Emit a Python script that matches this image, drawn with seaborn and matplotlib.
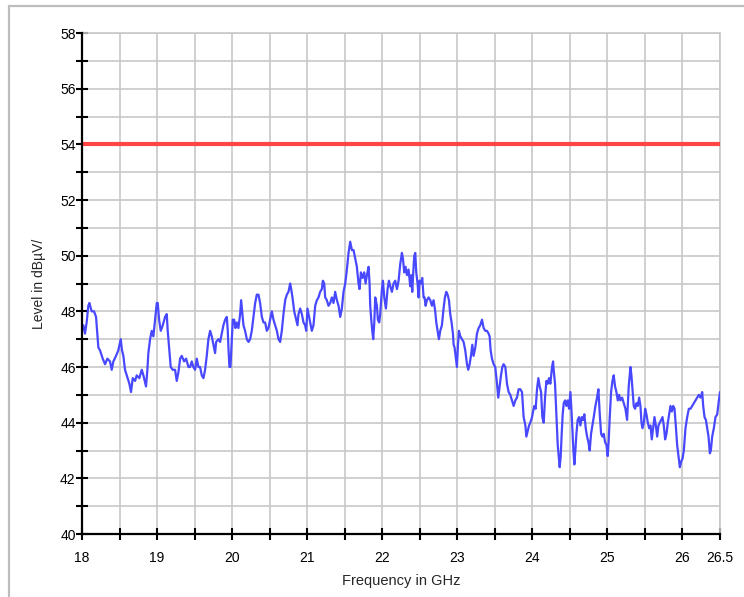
import numpy as np
import pandas as pd
import matplotlib
matplotlib.use("Agg")
import matplotlib.pyplot as plt
from matplotlib.lines import Line2D
import seaborn as sns

# Trace values, per frequency band (GHz, dBuV)
freq_18_19 = [18.000, 18.018, 18.040, 18.062, 18.084, 18.098, 18.129, 18.160, 18.187, 18.204,
              18.218, 18.240, 18.276, 18.307, 18.338, 18.373, 18.396, 18.418, 18.453, 18.484,
              18.516, 18.533, 18.551, 18.573, 18.596, 18.631, 18.653, 18.676, 18.707, 18.729,
              18.764, 18.796, 18.818, 18.853, 18.871, 18.884, 18.907, 18.929, 18.951, 18.973,
              18.996, 19.009, 19.027, 19.049, 19.076, 19.107, 19.129, 19.142, 19.164, 19.182,
              19.209, 19.240, 19.262, 19.284, 19.307, 19.329, 19.360, 19.387, 19.418]
level_18_19 = [47.3, 47.5, 47.2, 47.6, 48.2, 48.3, 48.0, 48.0, 47.8, 47.2,
               46.7, 46.6, 46.3, 46.1, 46.3, 46.2, 45.9, 46.2, 46.4, 46.6,
               47.0, 46.6, 46.4, 45.9, 45.7, 45.4, 45.1, 45.6, 45.5, 45.7,
               45.6, 45.9, 45.7, 45.3, 45.9, 46.5, 47.0, 47.3, 47.1, 47.7,
               48.3, 48.3, 47.7, 47.3, 47.5, 47.8, 47.9, 47.3, 46.6, 46.0,
               45.9, 45.9, 45.5, 45.8, 46.3, 46.4, 46.2, 46.3, 46.0]

freq_19_21 = [19.440, 19.462, 19.484, 19.507, 19.529, 19.551, 19.573, 19.596, 19.618, 19.640,
              19.662, 19.684, 19.707, 19.729, 19.751, 19.773, 19.787, 19.818, 19.840, 19.862,
              19.884, 19.907, 19.929, 19.942, 19.951, 19.964, 19.978, 19.996, 20.009, 20.027,
              20.044, 20.062, 20.084, 20.107, 20.120, 20.138, 20.151, 20.173, 20.196, 20.218,
              20.240, 20.262, 20.284, 20.307, 20.329, 20.351, 20.373, 20.396, 20.418, 20.440,
              20.462, 20.484, 20.507, 20.529, 20.551, 20.573, 20.596, 20.618, 20.640, 20.662,
              20.684, 20.707, 20.729, 20.751, 20.773, 20.787, 20.804, 20.827, 20.853, 20.871,
              20.884]
level_19_21 = [46.0, 46.2, 46.0, 45.9, 46.3, 46.0, 46.0, 45.7, 45.6, 45.9,
               46.4, 47.0, 47.3, 47.1, 46.8, 46.5, 46.9, 47.0, 46.9, 47.2,
               47.5, 47.7, 47.8, 47.3, 46.7, 46.0, 46.0, 47.0, 47.7, 47.7,
               47.4, 47.6, 47.4, 47.9, 48.4, 47.9, 47.5, 47.3, 47.0, 46.9,
               47.0, 47.3, 47.8, 48.3, 48.6, 48.6, 48.3, 47.8, 47.6, 47.6,
               47.3, 47.4, 47.7, 48.0, 47.7, 47.5, 47.3, 47.0, 46.9, 47.3,
               47.9, 48.4, 48.6, 48.7, 49.0, 48.8, 48.5, 48.0, 47.7, 47.5,
               47.9]

freq_21_22 = [20.907, 20.929, 20.951, 20.973, 20.987, 21.004, 21.018, 21.040, 21.062, 21.084,
              21.107, 21.129, 21.151, 21.173, 21.196, 21.209, 21.227, 21.240, 21.262, 21.284,
              21.307, 21.329, 21.351, 21.373, 21.396, 21.418, 21.440, 21.462, 21.484, 21.507,
              21.529, 21.551, 21.573, 21.596, 21.618, 21.640, 21.662, 21.684, 21.698, 21.716,
              21.738, 21.760, 21.778, 21.796, 21.818, 21.831, 21.840, 21.854, 21.867, 21.880,
              21.894, 21.907, 21.929, 21.942, 21.960, 21.973, 21.996, 22.009, 22.027, 22.049,
              22.071, 22.089, 22.107, 22.129, 22.151, 22.173, 22.196, 22.218, 22.240, 22.262,
              22.276, 22.293, 22.311, 22.329, 22.351]
level_21_22 = [48.1, 47.9, 47.6, 47.5, 47.3, 48.1, 47.9, 47.6, 47.3, 47.5,
               48.2, 48.4, 48.5, 48.7, 48.8, 49.1, 49.0, 48.5, 48.4, 48.2,
               48.3, 48.5, 48.3, 48.7, 48.4, 48.2, 47.8, 48.1, 48.7, 49.0,
               49.5, 50.1, 50.5, 50.2, 50.2, 49.9, 49.6, 49.0, 48.8, 49.4,
               49.2, 49.4, 49.0, 49.3, 49.6, 49.0, 48.2, 47.7, 47.3, 47.0,
               47.6, 48.5, 48.2, 47.7, 47.6, 47.9, 48.8, 49.1, 48.5, 48.1,
               48.8, 49.1, 48.9, 48.7, 49.0, 49.1, 48.8, 49.1, 49.7, 50.1,
               49.9, 49.4, 49.6, 49.3, 49.5]

freq_22_24 = [22.373, 22.387, 22.400, 22.413, 22.427, 22.440, 22.453, 22.471, 22.484, 22.497,
              22.515, 22.533, 22.551, 22.564, 22.578, 22.595, 22.618, 22.640, 22.662, 22.684,
              22.706, 22.720, 22.737, 22.755, 22.773, 22.795, 22.817, 22.835, 22.853, 22.871,
              22.889, 22.906, 22.924, 22.942, 22.951, 22.964, 22.977, 22.995, 23.009, 23.022,
              23.040, 23.062, 23.084, 23.106, 23.129, 23.146, 23.164, 23.182, 23.200, 23.217,
              23.240, 23.262, 23.284, 23.306, 23.329, 23.351, 23.373, 23.395, 23.417, 23.431,
              23.444, 23.462, 23.484, 23.506, 23.529, 23.546, 23.564, 23.582, 23.600, 23.617,
              23.640, 23.662, 23.684, 23.706, 23.729, 23.751, 23.773, 23.795, 23.817]
level_22_24 = [48.9, 49.3, 48.7, 49.4, 50.0, 50.1, 49.4, 49.0, 48.5, 49.1,
               49.0, 49.2, 48.5, 48.5, 48.2, 48.4, 48.5, 48.4, 48.2, 48.4,
               48.0, 47.6, 47.3, 47.0, 47.3, 47.5, 48.1, 48.5, 48.7, 48.6,
               48.4, 47.9, 47.6, 47.2, 46.8, 46.7, 46.4, 46.0, 46.8, 47.3,
               47.1, 47.0, 46.9, 46.6, 46.1, 45.9, 46.1, 46.4, 46.8, 46.4,
               46.7, 47.2, 47.4, 47.5, 47.7, 47.4, 47.3, 47.3, 47.2, 47.1,
               46.6, 46.3, 46.1, 46.0, 45.4, 44.9, 45.3, 45.7, 46.0, 46.1,
               46.0, 45.4, 45.1, 45.0, 44.8, 44.6, 44.8, 44.9, 45.2]

freq_24_25 = [23.840, 23.862, 23.884, 23.907, 23.920, 23.938, 23.956, 23.973, 23.996, 24.009,
              24.027, 24.044, 24.062, 24.080, 24.098, 24.116, 24.133, 24.151, 24.169, 24.187,
              24.204, 24.222, 24.240, 24.262, 24.276, 24.284, 24.302, 24.320, 24.338, 24.351,
              24.364, 24.378, 24.391, 24.404, 24.418, 24.436, 24.453, 24.471, 24.489, 24.507,
              24.520, 24.533, 24.547, 24.560, 24.573, 24.587, 24.604, 24.622, 24.640, 24.658,
              24.676, 24.693, 24.711, 24.729, 24.747, 24.764, 24.782, 24.800, 24.818, 24.840,
              24.862, 24.880, 24.898, 24.916, 24.933, 24.951, 24.969, 24.987, 25.004, 25.018,
              25.031, 25.049, 25.067, 25.084, 25.102, 25.120, 25.138, 25.156, 25.173, 25.196,
              25.218, 25.240, 25.262, 25.284]
level_24_25 = [45.2, 45.1, 44.2, 43.9, 43.5, 43.7, 43.9, 44.0, 44.2, 44.4,
               44.6, 44.5, 45.2, 45.6, 45.3, 45.1, 44.2, 44.0, 44.9, 45.5,
               45.4, 45.6, 45.4, 46.0, 46.2, 45.9, 45.4, 44.3, 43.2, 42.8,
               42.4, 42.8, 43.6, 44.3, 44.7, 44.8, 44.6, 44.8, 44.5, 45.1,
               44.5, 43.8, 43.0, 42.5, 43.0, 43.6, 44.1, 44.2, 43.9, 44.2,
               44.1, 44.3, 43.8, 43.5, 43.3, 43.0, 43.6, 43.9, 44.2, 44.6,
               44.9, 45.2, 44.3, 43.6, 43.5, 43.6, 43.3, 43.2, 42.8, 43.4,
               44.2, 45.1, 45.5, 45.7, 45.3, 45.1, 44.8, 45.0, 44.8, 44.9,
               44.7, 44.5, 44.1, 45.3]

freq_25_26 = [25.307, 25.320, 25.334, 25.351, 25.369, 25.387, 25.405, 25.423, 25.440, 25.454,
              25.467, 25.485, 25.503, 25.520, 25.538, 25.556, 25.574, 25.591, 25.609, 25.627,
              25.645, 25.663, 25.680, 25.698, 25.716, 25.734, 25.751, 25.769, 25.787, 25.805,
              25.823, 25.840, 25.858, 25.876, 25.894, 25.911, 25.929, 25.947, 25.965, 25.983,
              26.000, 26.018, 26.040, 26.063, 26.085, 26.107, 26.129, 26.151, 26.174, 26.196,
              26.218, 26.240, 26.263, 26.276, 26.294, 26.312, 26.329, 26.347, 26.365, 26.378,
              26.396, 26.418, 26.440, 26.463, 26.485, 26.500]
level_25_26 = [46.0, 45.7, 45.2, 44.6, 44.5, 44.7, 44.6, 44.9, 44.6, 44.0,
               43.8, 44.0, 44.5, 44.3, 44.0, 43.8, 43.9, 43.4, 43.8, 44.2,
               43.9, 43.5, 43.9, 44.0, 44.1, 44.2, 43.9, 43.4, 43.6, 44.0,
               44.3, 44.6, 44.4, 44.6, 44.5, 43.9, 43.2, 42.8, 42.4, 42.6,
               42.7, 43.0, 43.8, 44.2, 44.5, 44.5, 44.6, 44.7, 44.8, 44.9,
               45.0, 44.9, 45.1, 44.6, 44.2, 44.1, 43.8, 43.5, 42.9, 43.0,
               43.5, 43.8, 44.2, 44.3, 44.8, 45.1]

LIMIT_DBUV = 54

X_TICKS = [18, 18.5, 19, 19.5, 20, 20.5, 21, 21.5, 22, 22.5, 23, 23.5, 24, 24.5, 25, 25.5, 26, 26.5]
X_LABELS = ["18", "", "19", "", "20", "", "21", "", "22", "", "23", "", "24", "", "25", "", "26", "26.5"]
Y_MAJOR = [40, 42, 44, 46, 48, 50, 52, 54, 56, 58]
Y_MINOR = [41, 43, 45, 47, 49, 51, 53, 55, 57]

W, H = 744, 597


def montar_dados():
    freqs = freq_18_19 + freq_19_21 + freq_21_22 + freq_22_24 + freq_24_25 + freq_25_26
    levels = level_18_19 + level_19_21 + level_21_22 + level_22_24 + level_24_25 + level_25_26
    assert len(freqs) == len(levels)
    return pd.DataFrame({"freq": freqs, "level": levels})


def main():
    df = montar_dados()

    sns.set_theme(style="white")
    plt.rcParams["font.family"] = ["Liberation Sans", "DejaVu Sans"]

    fig = plt.figure(figsize=(W / 100, H / 100), dpi=100)
    ax = fig.add_axes([82 / W, 1 - 534 / H, (720 - 82) / W, (534 - 33) / H])

    # figure frame: only top and left edges are visible in the reference
    frame_c = "#bdbdbd"
    fig.add_artist(Line2D([9 / W, 1.0], [1 - 6 / H, 1 - 6 / H], transform=fig.transFigure,
                          color=frame_c, linewidth=1.6))
    fig.add_artist(Line2D([9 / W, 9 / W], [0.0, 1 - 6 / H], transform=fig.transFigure,
                          color=frame_c, linewidth=1.6))

    grid_c = "#c8c8c8"
    ax.set_xlim(18, 26.5)
    ax.set_ylim(40, 58)
    ax.set_xticks(X_TICKS)
    ax.set_xticklabels(X_LABELS)
    ax.set_yticks(Y_MAJOR)
    ax.set_yticks(Y_MINOR, minor=True)
    ax.grid(True, which="both", axis="y", color=grid_c, linewidth=1.2)
    ax.grid(True, which="major", axis="x", color=grid_c, linewidth=1.2)
    ax.set_axisbelow(True)

    ax.axhline(LIMIT_DBUV, color="#ff4444", linewidth=3, zorder=3)
    sns.lineplot(data=df, x="freq", y="level", ax=ax, color="#4848ff",
                 linewidth=1.6, sort=False, estimator=None, zorder=4)

    for s in ["left", "bottom"]:
        ax.spines[s].set_color("black")
        ax.spines[s].set_linewidth(1.6)
        ax.spines[s].set_zorder(5)
    for s in ["top", "right"]:
        ax.spines[s].set_color(grid_c)
        ax.spines[s].set_linewidth(1.2)

    ax.tick_params(axis="both", which="both", direction="inout", length=8, width=1.5,
                   color="black", labelsize=10, labelcolor="black")
    ax.tick_params(axis="x", pad=8)
    ax.tick_params(axis="y", pad=0.5)
    ax.tick_params(axis="x", which="major", bottom=True, top=False)
    ax.tick_params(axis="y", which="both", left=True, right=False)

    ax.set_xlabel("Frequency in GHz", fontsize=10.5)
    ax.set_ylabel("Level in dBµV/", fontsize=10)
    ax.xaxis.set_label_coords(0.5, -0.08)
    ax.yaxis.set_label_coords(-0.056, 0.5)

    fig.savefig("out.png", dpi=100)


if __name__ == "__main__":
    main()
